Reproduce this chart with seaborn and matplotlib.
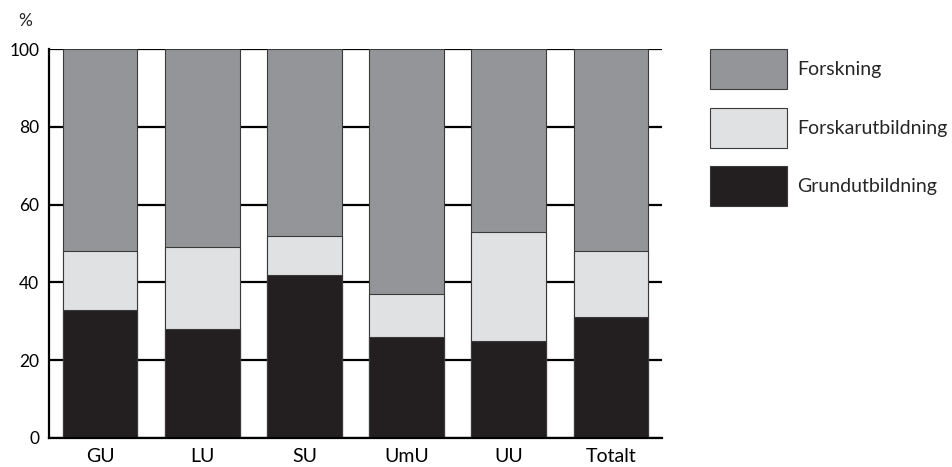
import numpy as np
import pandas as pd
import seaborn as sns
import matplotlib.pyplot as plt
from matplotlib.patches import Patch

categories = ["GU", "LU", "SU", "UmU", "UU", "Totalt"]
grundutbildning = [33, 28, 42, 26, 25, 31]
forskarutbildning = [15, 21, 10, 11, 28, 17]
forskning = [52, 51, 48, 63, 47, 52]

series_names = ["Forskning", "Forskarutbildning", "Grundutbildning"]
colors = {"Forskning": "#939598", "Forskarutbildning": "#e0e1e3", "Grundutbildning": "#231f20"}

sns.set_style("white")
plt.rcParams["font.family"] = ["Lato", "DejaVu Sans"]

df = pd.DataFrame({
    "kategori": categories,
    "Grundutbildning": grundutbildning,
    "Forskarutbildning": forskarutbildning,
    "Forskning": forskning,
})
# cumulative tops, drawn back to front so the stacks overlay
df["top_grund"] = df["Grundutbildning"]
df["top_forskar"] = df["top_grund"] + df["Forskarutbildning"]
df["top_forskning"] = df["top_forskar"] + df["Forskning"]

fig = plt.figure(figsize=(9.53, 4.67), dpi=100)
ax = fig.add_axes([0.0514, 0.0621, 0.6432, 0.8329])

for col, name in [("top_forskning", "Forskning"),
                  ("top_forskar", "Forskarutbildning"),
                  ("top_grund", "Grundutbildning")]:
    sns.barplot(data=df, x="kategori", y=col, color=colors[name], width=0.73,
                edgecolor="#3a3a3a", linewidth=0.8, saturation=1, ax=ax)

ax.set_axisbelow(True)
ax.set_xlim(-0.5, 5.5)
ax.set_ylim(0, 100)
ax.set_yticks(np.arange(0, 101, 20))
ax.yaxis.grid(True, color="black", linewidth=1.6)
ax.xaxis.grid(False)
ax.set_xlabel("")
ax.set_ylabel("")

for s in ["top", "right"]:
    ax.spines[s].set_visible(False)
for s in ["left", "bottom"]:
    ax.spines[s].set_color("black")
    ax.spines[s].set_linewidth(1.6)

ax.tick_params(axis="both", which="major", length=0, colors="black")
ax.tick_params(axis="y", labelsize=12.5, pad=7)
ax.tick_params(axis="x", labelsize=14, pad=7)
ax.set_xticks(np.arange(0.5, 6.0, 1.0), minor=True)
ax.tick_params(axis="x", which="minor", direction="in", length=7, width=1.4, color="black")

fig.text(0.019, 0.955, "%", fontsize=12.5, ha="left", va="center")

handles = [Patch(facecolor=colors[n], edgecolor="#3a3a3a", linewidth=0.8) for n in series_names]
fig.legend(handles, series_names, loc="upper left", bbox_to_anchor=(0.745, 0.895),
           frameon=False, fontsize=14, handlelength=3.96, handleheight=2.79,
           labelspacing=0.96, handletextpad=0.51, borderpad=0, borderaxespad=0)

fig.savefig("out.png", dpi=100)
